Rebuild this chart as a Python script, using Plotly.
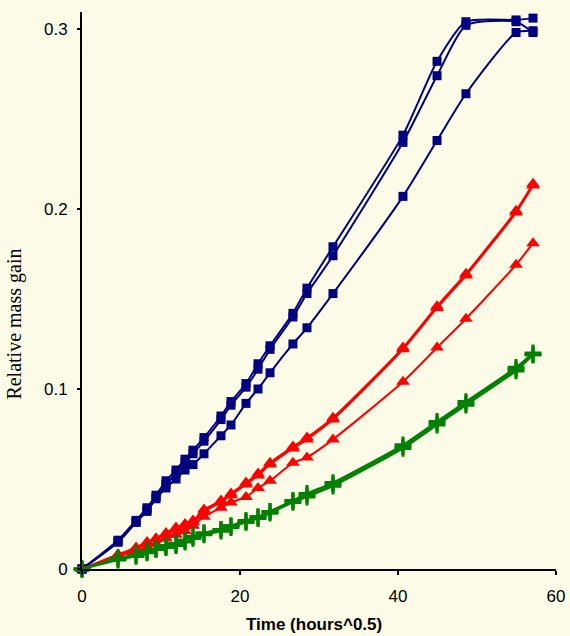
import plotly.graph_objects as go

# time axis (hours^0.5)
T = [0, 4.56, 6.84, 8.23, 9.37, 10.63, 11.9, 13.04, 14.05, 15.44, 17.59, 18.86,
     20.76, 22.28, 23.8, 26.7, 28.48, 31.77, 40.63, 44.94, 48.6, 54.94, 57.09]

blue_a = [0, 0.016, 0.027, 0.034, 0.041, 0.049, 0.055, 0.061, 0.066, 0.073, 0.085, 0.093,
          0.103, 0.114, 0.124, 0.142, 0.156, 0.179, 0.241, 0.282, 0.304, 0.305, 0.306]
blue_b = [0, 0.015, 0.026, 0.033, 0.040, 0.047, 0.053, 0.059, 0.064, 0.071, 0.083, 0.091,
          0.101, 0.111, 0.122, 0.140, 0.153, 0.174, 0.237, 0.274, 0.302, 0.304, 0.298]
blue_c = [0, 0.015, 0.026, 0.032, 0.039, 0.045, 0.050, 0.055, 0.058, 0.064, 0.074, 0.080,
          0.092, 0.100, 0.109, 0.125, 0.134, 0.153, 0.207, 0.238, 0.264, 0.298, 0.299]

red_a = [0, 0.008, 0.012, 0.015, 0.017, 0.020, 0.023, 0.025, 0.027, 0.033, 0.038, 0.042,
         0.048, 0.053, 0.059, 0.068, 0.073, 0.084, 0.123, 0.146, 0.164, 0.199, 0.214]
red_b = [0, 0.008, 0.011, 0.014, 0.017, 0.019, 0.022, 0.024, 0.026, 0.032, 0.037, 0.041,
         0.047, 0.052, 0.058, 0.067, 0.072, 0.083, 0.122, 0.145, 0.163, 0.198, 0.213]
red_c = [0, 0.007, 0.010, 0.012, 0.014, 0.017, 0.019, 0.021, 0.024, 0.029, 0.034, 0.037,
         0.040, 0.045, 0.049, 0.059, 0.062, 0.072, 0.104, 0.123, 0.139, 0.169, 0.181]

green_a = [0, 0.006, 0.008, 0.010, 0.011, 0.012, 0.014, 0.016, 0.018, 0.020, 0.022, 0.024,
           0.026, 0.029, 0.032, 0.038, 0.041, 0.047, 0.068, 0.081, 0.092, 0.111, 0.119]
green_b = [0, 0.005, 0.007, 0.009, 0.011, 0.012, 0.013, 0.015, 0.017, 0.019, 0.021, 0.023,
           0.026, 0.028, 0.031, 0.037, 0.040, 0.046, 0.067, 0.080, 0.091, 0.110, 0.119]
green_c = [0, 0.006, 0.008, 0.010, 0.011, 0.013, 0.014, 0.016, 0.018, 0.020, 0.022, 0.024,
           0.027, 0.029, 0.032, 0.038, 0.042, 0.048, 0.069, 0.082, 0.093, 0.112, 0.120]

x_ticks = [0, 20, 40, 60]
y_ticks = [0, 0.1, 0.2, 0.3]
y_tick_labels = ["0", "0.1", "0.2", "0.3"]

BLUE, RED, GREEN = "#000080", "#FF0000", "#008000"
BG = "#FCFBE7"

fig = go.Figure()

def add(ys, color, symbol, size, mline=0, lw=2):
    fig.add_trace(go.Scatter(
        x=T, y=ys, mode="lines+markers",
        line=dict(color=color, width=lw, shape="spline", smoothing=0.6),
        marker=dict(symbol=symbol, size=size, color=color,
                    line=dict(color=color, width=mline)),
        cliponaxis=False, showlegend=False))

for ys in (blue_a, blue_b, blue_c):
    add(ys, BLUE, "square", 9)
for ys in (red_a, red_b, red_c):
    add(ys, RED, "triangle-up", 12)
for ys in (green_a, green_b, green_c):
    add(ys, GREEN, "cross-thin", 12, mline=3, lw=2)

fig.update_layout(
    width=570, height=636,
    margin=dict(l=82, r=14, t=12, b=67, autoexpand=False),
    paper_bgcolor=BG, plot_bgcolor=BG,
    font=dict(family="Arial, Liberation Sans, sans-serif", color="black", size=17),
    xaxis=dict(range=[0, 60], tickvals=x_ticks, showgrid=False, zeroline=False,
               showline=True, linecolor="black", linewidth=2, automargin=False,
               ticks="outside", ticklen=4, tickwidth=2, tickcolor="black",
               ticklabelstandoff=7, tickfont=dict(size=17)),
    yaxis=dict(range=[0, 0.3094], tickvals=y_ticks, ticktext=y_tick_labels,
               showgrid=False, zeroline=False, automargin=False,
               showline=True, linecolor="black", linewidth=2,
               ticks="outside", ticklen=3, tickwidth=2, tickcolor="black",
               ticklabelstandoff=6, tickfont=dict(size=17)),
    annotations=[
        dict(text="<b>Time (hours^0.5)</b>", xref="paper", yref="paper",
             x=0.49, y=-0.099, yanchor="middle", xanchor="center", showarrow=False,
             font=dict(family="Arial, Liberation Sans, sans-serif", size=17, color="black")),
        dict(text="Relative mass gain", xref="paper", yref="paper",
             x=-0.142, y=0.44, xanchor="center", yanchor="middle", textangle=-90,
             showarrow=False,
             font=dict(family="Liberation Serif, Times New Roman, serif", size=20, color="black")),
    ],
)

fig.write_html("out.html")
